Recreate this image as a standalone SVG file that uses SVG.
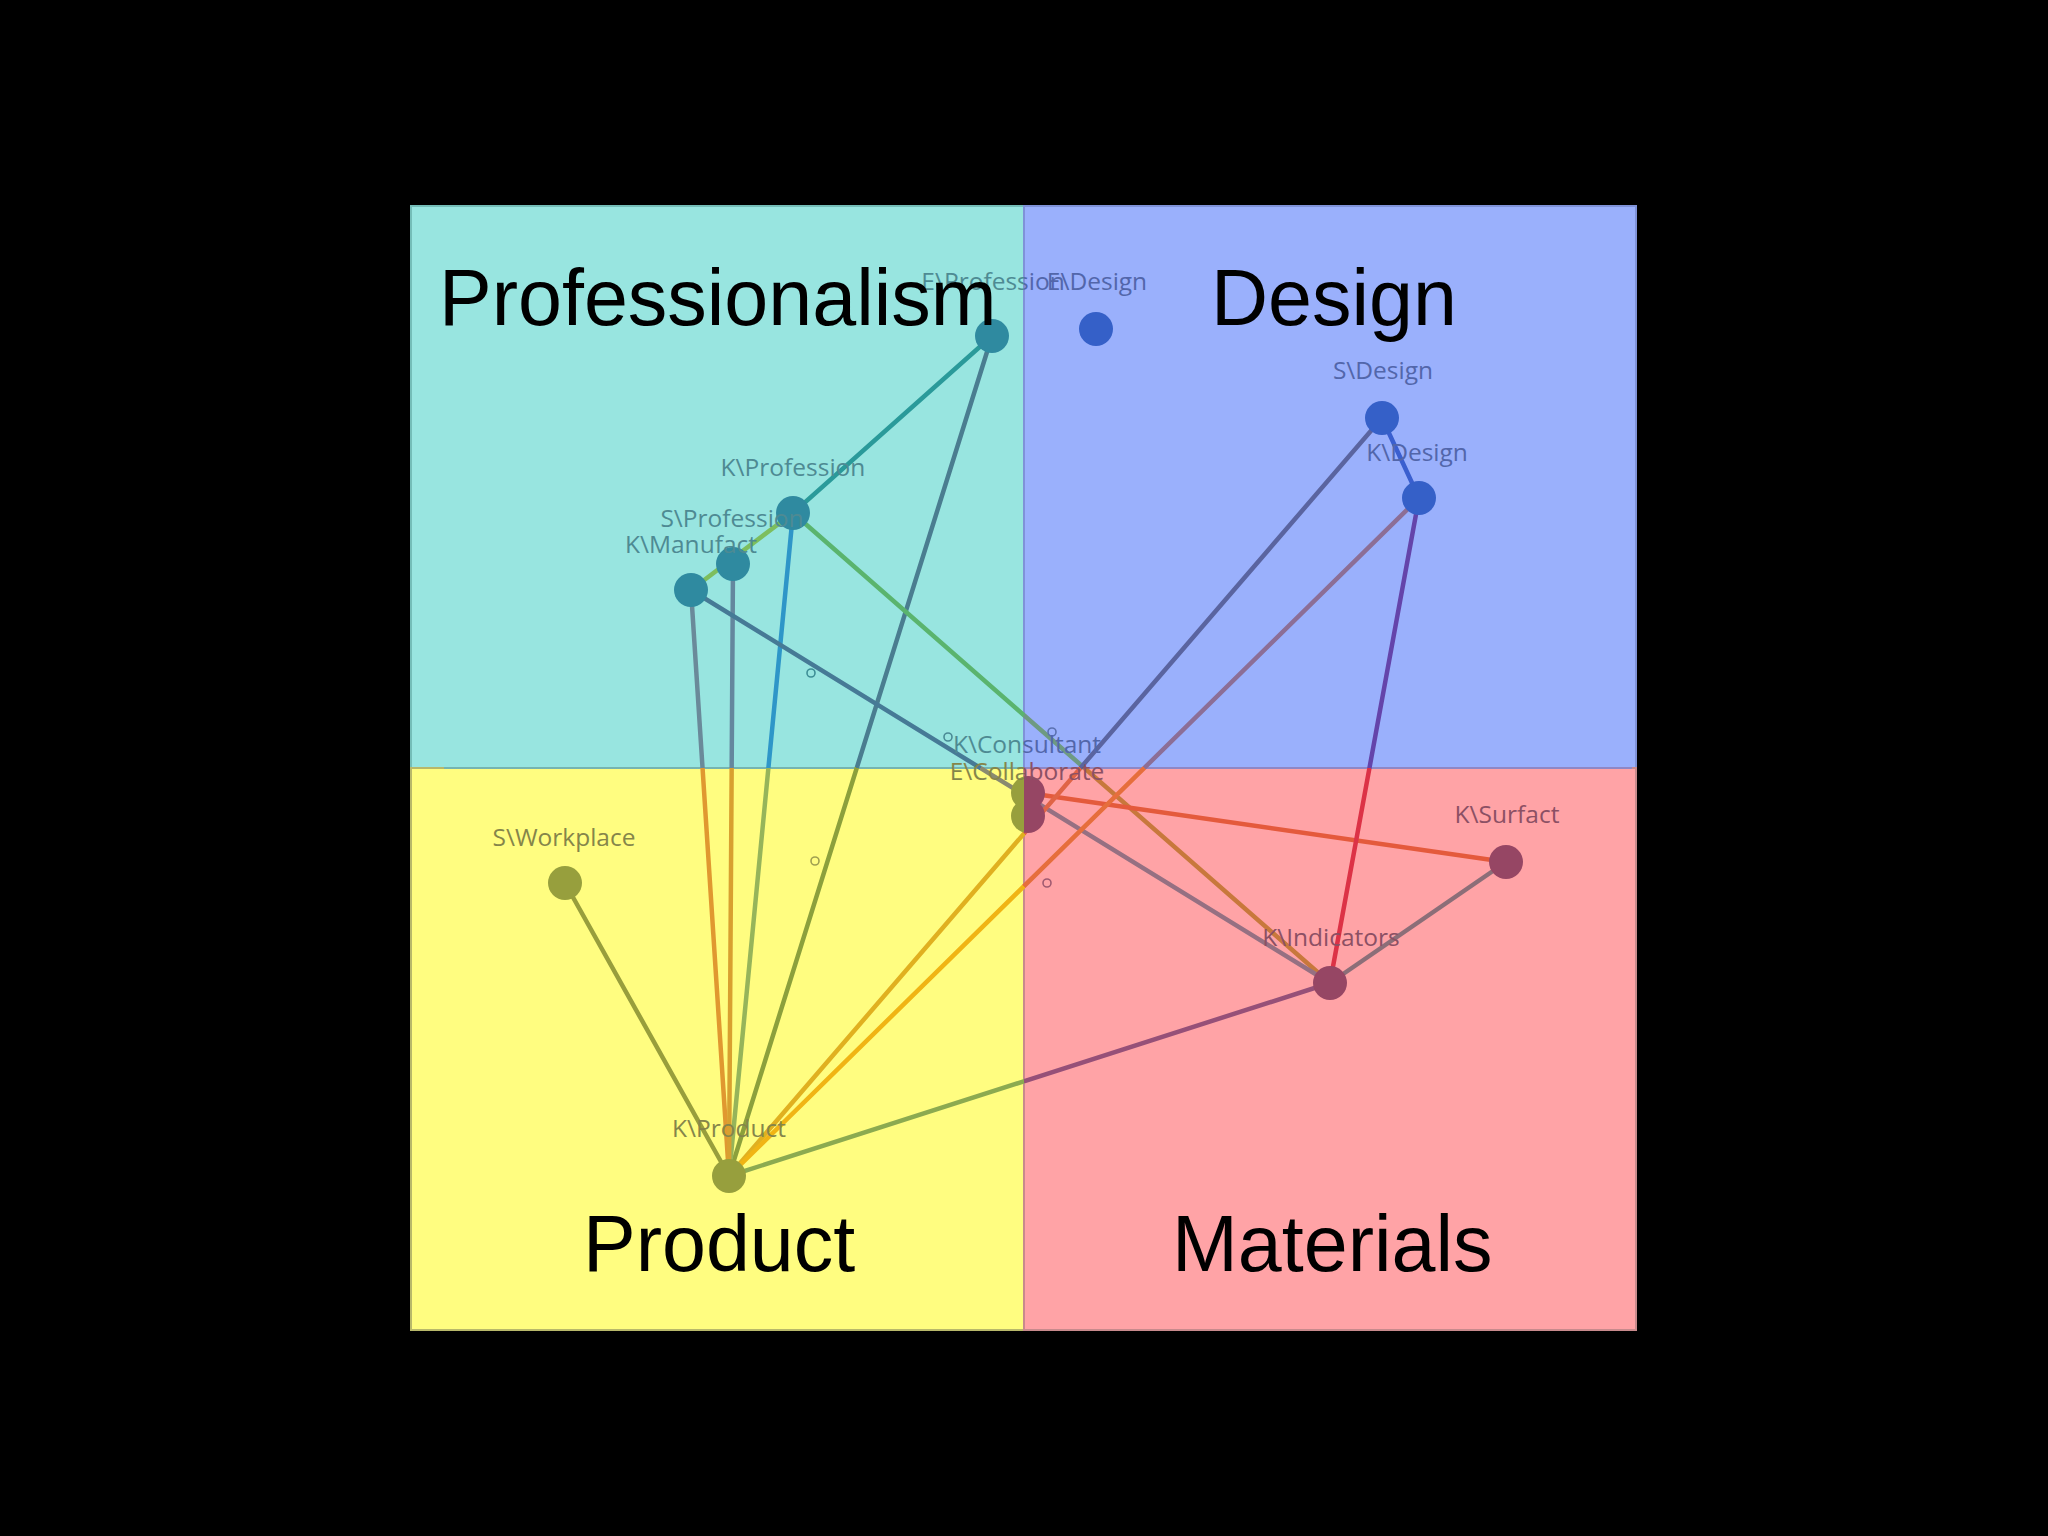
<svg xmlns="http://www.w3.org/2000/svg" xmlns:xlink="http://www.w3.org/1999/xlink" width="2048" height="1536" viewBox="0 0 2048 1536">
<defs>
<style>
.edge{fill:none;stroke-width:4.5;stroke-linecap:round}
.node{stroke:none}
.lbl{font-family:"Open Sans","Noto Sans","DejaVu Sans",sans-serif;font-size:24.5px;text-anchor:middle}
.title{font-family:"Liberation Sans",Arial,sans-serif;font-size:79px;fill:#000}
.ring{fill:none;stroke-width:1.6}
</style>
<linearGradient id="splitYP" gradientUnits="userSpaceOnUse" x1="0" y1="0" x2="2048" y2="0"><stop offset="0" stop-color="#979F3D"/><stop offset="0.5" stop-color="#979F3D"/><stop offset="0.5" stop-color="#964664"/><stop offset="1" stop-color="#964664"/></linearGradient>
<linearGradient id="lblCB" gradientUnits="userSpaceOnUse" x1="0" y1="0" x2="2048" y2="0"><stop offset="0" stop-color="#4E8A93"/><stop offset="0.5" stop-color="#4E8A93"/><stop offset="0.5" stop-color="#5266AA"/><stop offset="1" stop-color="#5266AA"/></linearGradient>
<linearGradient id="lblYP" gradientUnits="userSpaceOnUse" x1="0" y1="0" x2="2048" y2="0"><stop offset="0" stop-color="#85854A"/><stop offset="0.5" stop-color="#85854A"/><stop offset="0.5" stop-color="#8C5064"/><stop offset="1" stop-color="#8C5064"/></linearGradient>
<linearGradient id="divG" gradientUnits="userSpaceOnUse" x1="0" y1="0" x2="2048" y2="0"><stop offset="0" stop-color="#5FB3C8"/><stop offset="0.5" stop-color="#5FB3C8"/><stop offset="0.5" stop-color="#7C86D8"/><stop offset="1" stop-color="#7C86D8"/></linearGradient>
<linearGradient id="g2" gradientUnits="userSpaceOnUse" x1="992" y1="336" x2="729" y2="1176"><stop offset="0" stop-color="#4A7D90"/><stop offset="0.514" stop-color="#4A7D90"/><stop offset="0.514" stop-color="#8CA03C"/><stop offset="1" stop-color="#8CA03C"/></linearGradient>
<linearGradient id="g4" gradientUnits="userSpaceOnUse" x1="793" y1="513" x2="729" y2="1176"><stop offset="0" stop-color="#2E96C8"/><stop offset="0.385" stop-color="#2E96C8"/><stop offset="0.385" stop-color="#96B45A"/><stop offset="1" stop-color="#96B45A"/></linearGradient>
<linearGradient id="g5" gradientUnits="userSpaceOnUse" x1="793" y1="513" x2="1330" y2="983"><stop offset="0" stop-color="#5AB46E"/><stop offset="0.43" stop-color="#5AB46E"/><stop offset="0.43" stop-color="#6E9A82"/><stop offset="0.5426" stop-color="#6E9A82"/><stop offset="0.5426" stop-color="#C8783C"/><stop offset="1" stop-color="#C8783C"/></linearGradient>
<linearGradient id="g6" gradientUnits="userSpaceOnUse" x1="691" y1="590" x2="729" y2="1176"><stop offset="0" stop-color="#6A8A9A"/><stop offset="0.304" stop-color="#6A8A9A"/><stop offset="0.304" stop-color="#E09830"/><stop offset="1" stop-color="#E09830"/></linearGradient>
<linearGradient id="g7" gradientUnits="userSpaceOnUse" x1="733" y1="564" x2="729" y2="1176"><stop offset="0" stop-color="#64879E"/><stop offset="0.333" stop-color="#64879E"/><stop offset="0.333" stop-color="#D8A030"/><stop offset="1" stop-color="#D8A030"/></linearGradient>
<linearGradient id="g9" gradientUnits="userSpaceOnUse" x1="691" y1="590" x2="1330" y2="983"><stop offset="0" stop-color="#467A96"/><stop offset="0.453" stop-color="#467A96"/><stop offset="0.453" stop-color="#8A8A70"/><stop offset="0.521" stop-color="#8A8A70"/><stop offset="0.521" stop-color="#967082"/><stop offset="1" stop-color="#967082"/></linearGradient>
<linearGradient id="g12" gradientUnits="userSpaceOnUse" x1="1419" y1="498" x2="1330" y2="983"><stop offset="0" stop-color="#6444AA"/><stop offset="0.557" stop-color="#6444AA"/><stop offset="0.557" stop-color="#DC3246"/><stop offset="1" stop-color="#DC3246"/></linearGradient>
<linearGradient id="g14" gradientUnits="userSpaceOnUse" x1="1382" y1="418" x2="729" y2="1176"><stop offset="0" stop-color="#5A64A0"/><stop offset="0.4617" stop-color="#5A64A0"/><stop offset="0.4617" stop-color="#E06446"/><stop offset="0.548" stop-color="#E06446"/><stop offset="0.548" stop-color="#E0B020"/><stop offset="1" stop-color="#E0B020"/></linearGradient>
<linearGradient id="g15" gradientUnits="userSpaceOnUse" x1="1419" y1="498" x2="729" y2="1176"><stop offset="0" stop-color="#8C6E96"/><stop offset="0.398" stop-color="#8C6E96"/><stop offset="0.398" stop-color="#E66E3C"/><stop offset="0.5725" stop-color="#E66E3C"/><stop offset="0.5725" stop-color="#F0B414"/><stop offset="1" stop-color="#F0B414"/></linearGradient>
<linearGradient id="g16" gradientUnits="userSpaceOnUse" x1="1330" y1="983" x2="729" y2="1176"><stop offset="0" stop-color="#965078"/><stop offset="0.509" stop-color="#965078"/><stop offset="0.509" stop-color="#8CAA50"/><stop offset="1" stop-color="#8CAA50"/></linearGradient>
</defs>
<rect x="0" y="0" width="2048" height="1536" fill="#000"/>
<g id="quadrants">
<rect x="411" y="206" width="613" height="562" fill="#98E5E0" stroke="#74BDB8" stroke-width="2"/>
<rect x="1024" y="206" width="612" height="562" fill="#9AB0FC" stroke="#7F92D8" stroke-width="2"/>
<rect x="411" y="768" width="613" height="562" fill="#FFFD80" stroke="#B8B86A" stroke-width="2"/>
<rect x="1024" y="768" width="612" height="562" fill="#FFA3A6" stroke="#C88A8C" stroke-width="2"/>
<line x1="444" y1="768" x2="1632" y2="768" stroke="url(#divG)" stroke-width="1.6"/>
</g>
<g id="connectors">
<line class="edge" x1="992" y1="336" x2="793" y2="513" stroke="#2A9A9A"/>
<line class="edge" x1="992" y1="336" x2="729" y2="1176" stroke="url(#g2)"/>
<line class="edge" x1="793" y1="513" x2="691" y2="590" stroke="#7DBE5E"/>
<line class="edge" x1="793" y1="513" x2="729" y2="1176" stroke="url(#g4)"/>
<line class="edge" x1="793" y1="513" x2="1330" y2="983" stroke="url(#g5)"/>
<line class="edge" x1="691" y1="590" x2="729" y2="1176" stroke="url(#g6)"/>
<line class="edge" x1="733" y1="564" x2="729" y2="1176" stroke="url(#g7)"/>
<line class="edge" x1="691" y1="590" x2="1330" y2="983" stroke="url(#g9)" stroke-width="5.5"/>
<line class="edge" x1="1028" y1="793" x2="1506" y2="862" stroke="#E45A3C"/>
<line class="edge" x1="1330" y1="983" x2="1506" y2="862" stroke="#8C6E78"/>
<line class="edge" x1="1419" y1="498" x2="1330" y2="983" stroke="url(#g12)"/>
<line class="edge" x1="1382" y1="418" x2="1419" y2="498" stroke="#3A5FCF" stroke-width="5.5"/>
<line class="edge" x1="1382" y1="418" x2="729" y2="1176" stroke="url(#g14)"/>
<line class="edge" x1="1419" y1="498" x2="729" y2="1176" stroke="url(#g15)"/>
<line class="edge" x1="1330" y1="983" x2="729" y2="1176" stroke="url(#g16)"/>
<line class="edge" x1="565" y1="883" x2="729" y2="1176" stroke="#989E3C"/>
</g>
<g id="rings">
<circle class="ring" cx="811" cy="673" r="4" stroke="#3E8E96"/>
<circle class="ring" cx="815" cy="861" r="4" stroke="#A0A050"/>
<circle class="ring" cx="1047" cy="883" r="4" stroke="#A05A70"/>
<circle class="ring" cx="1052" cy="732" r="4" stroke="#5A70B0"/>
<circle class="ring" cx="948" cy="737" r="4" stroke="#4A8A95"/>
</g>
<g id="node-e-profession"><circle class="node" cx="992" cy="336" r="17" fill="#2F8AA0"/><text class="lbl" x="993" y="290" fill="url(#lblCB)">E\Profession</text></g>
<g id="node-e-design"><circle class="node" cx="1096" cy="329" r="17" fill="#3560C8"/><text class="lbl" x="1097" y="290" fill="#5266AA">E\Design</text></g>
<g id="node-s-design"><circle class="node" cx="1382" cy="418" r="17" fill="#3560C8"/><text class="lbl" x="1383" y="379" fill="#5266AA">S\Design</text></g>
<g id="node-k-design"><circle class="node" cx="1419" cy="498" r="17" fill="#3560C8"/><text class="lbl" x="1417" y="461" fill="#5266AA">K\Design</text></g>
<g id="node-k-profession"><circle class="node" cx="793" cy="513" r="17" fill="#2F8AA0"/><text class="lbl" x="793" y="476" fill="#4E8A93">K\Profession</text></g>
<g id="node-s-profession"><circle class="node" cx="733" cy="564" r="17" fill="#2F8AA0"/><text class="lbl" x="732" y="527" fill="#4E8A93">S\Profession</text></g>
<g id="node-k-manufact"><circle class="node" cx="691" cy="590" r="17" fill="#2F8AA0"/><text class="lbl" x="691" y="553" fill="#4E8A93">K\Manufact</text></g>
<g id="node-k-consultant"><circle class="node" cx="1028" cy="793" r="17" fill="url(#splitYP)"/><text class="lbl" x="1027" y="753" fill="url(#lblCB)">K\Consultant</text></g>
<g id="node-e-collaborate"><circle class="node" cx="1028" cy="816" r="17" fill="url(#splitYP)"/><text class="lbl" x="1027" y="780" fill="url(#lblYP)">E\Collaborate</text></g>
<g id="node-s-workplace"><circle class="node" cx="565" cy="883" r="17" fill="#979F3D"/><text class="lbl" x="564" y="846" fill="#85854A">S\Workplace</text></g>
<g id="node-k-product"><circle class="node" cx="729" cy="1176" r="17" fill="#979F3D"/><text class="lbl" x="729" y="1137" fill="#85854A">K\Product</text></g>
<g id="node-k-indicators"><circle class="node" cx="1330" cy="983" r="17" fill="#964664"/><text class="lbl" x="1331" y="946" fill="#8C5064">K\Indicators</text></g>
<g id="node-k-surfact"><circle class="node" cx="1506" cy="862" r="17" fill="#964664"/><text class="lbl" x="1507" y="823" fill="#8C5064">K\Surfact</text></g>
<g id="titles">
<text class="title" x="439" y="325">Professionalism</text>
<text class="title" x="1211" y="325">Design</text>
<text class="title" x="583" y="1271">Product</text>
<text class="title" x="1172" y="1271">Materials</text>
</g>
</svg>
